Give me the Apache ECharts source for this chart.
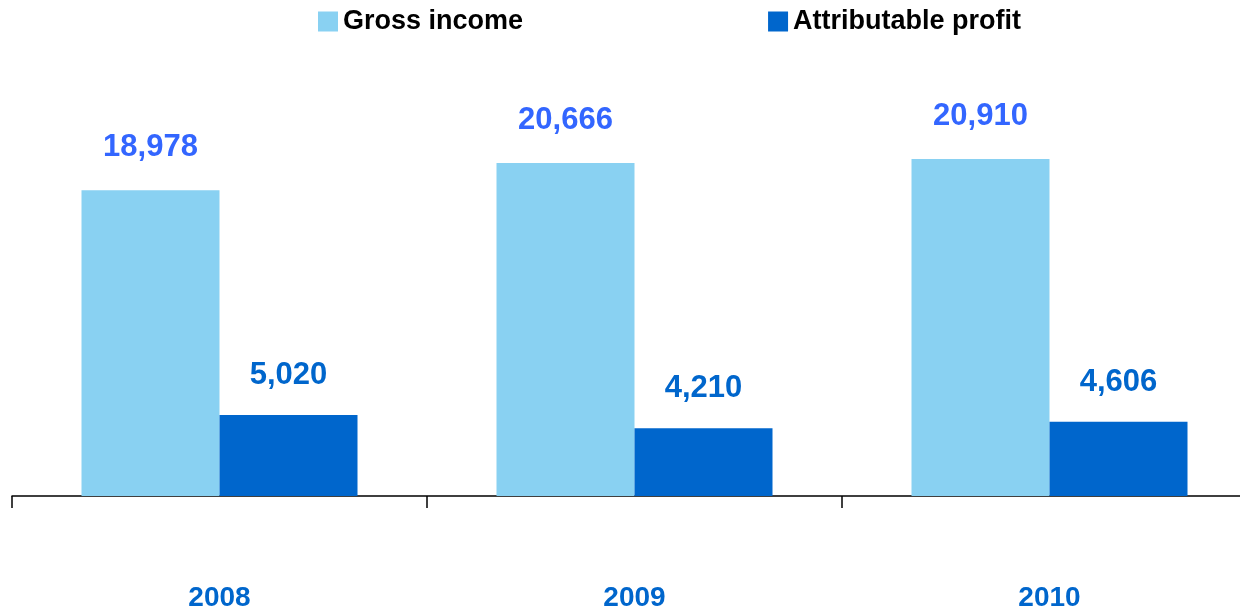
<!DOCTYPE html>
<html>
<head>
<meta charset="utf-8">
<script src="https://cdn.jsdelivr.net/npm/echarts@6/dist/echarts.min.js"></script>
<style>
  html, body { margin: 0; padding: 0; background: #ffffff; overflow: hidden; }
  #chart { width: 1257px; height: 614px; }
</style>
</head>
<body>
<div id="chart"></div>
<script>
// Income and profit by year (millions)
const years = ['2008', '2009', '2010'];
const grossIncome = [18978, 20666, 20910];
const attributableProfit = [5020, 4210, 4606];

const FONT = '"Liberation Sans", Arial, sans-serif';
const fmt = (p) => p.value.toLocaleString('en-US');

const chart = echarts.init(document.getElementById('chart'));
chart.setOption({
  animation: false,
  backgroundColor: '#ffffff',
  legend: {
    left: 313,
    top: 3,
    itemWidth: 20,
    itemHeight: 20,
    itemGap: 245,
    icon: 'rect',
    textStyle: { fontFamily: FONT, fontSize: 27, fontWeight: 'bold', color: '#000000' },
    data: ['Gross income', 'Attributable profit']
  },
  // plot spans three 415px categories; the last one runs past the page edge
  grid: { left: 12, top: 61, right: 0, height: 435 },
  xAxis: {
    type: 'category',
    data: years,
    axisLine: { show: true, lineStyle: { color: '#000000', width: 1.5 } },
    axisTick: { show: true, length: 12, lineStyle: { color: '#000000', width: 1.5 } },
    axisLabel: { margin: 88, fontFamily: FONT, fontSize: 28, fontWeight: 'bold', color: '#0066CC' }
  },
  yAxis: {
    type: 'value',
    min: 0,
    max: 27000,
    show: false,
    splitLine: { show: false }
  },
  series: [
    {
      name: 'Gross income',
      type: 'bar',
      data: grossIncome,
      barWidth: 138,
      barGap: '0%',
      itemStyle: { color: '#89D1F2' },
      label: {
        show: true, position: 'top', distance: 27, formatter: fmt,
        fontFamily: FONT, fontSize: 31, fontWeight: 'bold', color: '#3366FF'
      }
    },
    {
      name: 'Attributable profit',
      type: 'bar',
      data: attributableProfit,
      barWidth: 138,
      barGap: '0%',
      itemStyle: { color: '#0066CC' },
      label: {
        show: true, position: 'top', distance: 24, formatter: fmt,
        fontFamily: FONT, fontSize: 31, fontWeight: 'bold', color: '#0066CC'
      }
    }
  ]
});
</script>
</body>
</html>
